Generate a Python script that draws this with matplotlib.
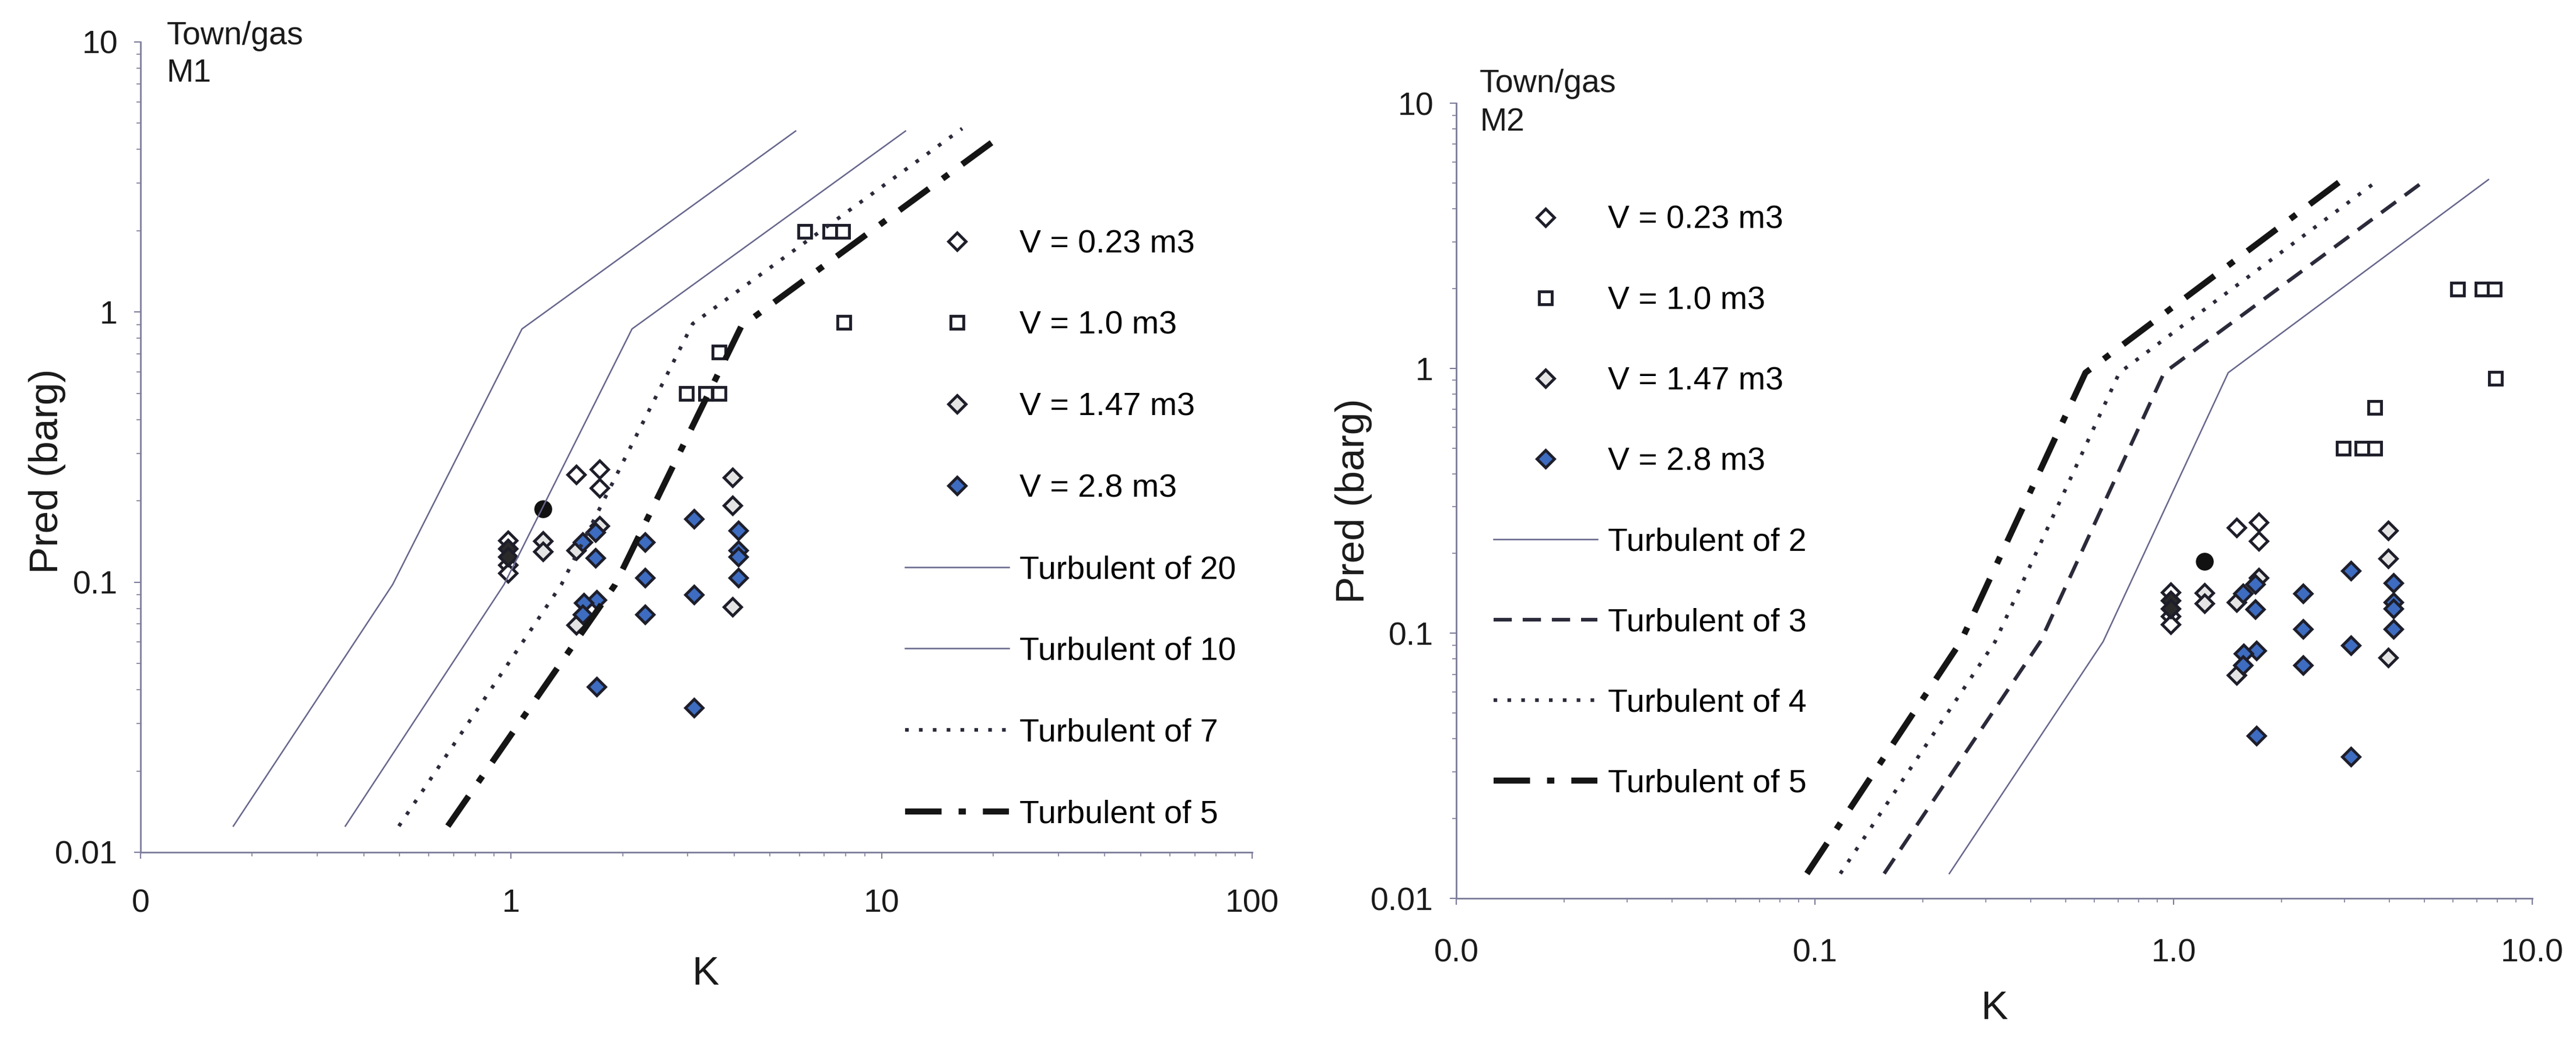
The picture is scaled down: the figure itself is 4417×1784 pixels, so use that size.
import matplotlib
matplotlib.use('Agg')

import matplotlib.pyplot as plt
from matplotlib.ticker import FixedLocator, FixedFormatter, LogLocator, NullFormatter

# experimental points (same K / Pred in both panels)
k_023 = [0.98, 0.98, 0.98, 1.50, 1.73, 1.73]
p_023 = [0.143, 0.116, 0.108, 0.250, 0.262, 0.223]
k_100 = [6.2, 7.25, 7.85, 7.9, 3.64, 2.97, 3.35, 3.64]
p_100 = [1.99, 1.99, 1.99, 0.915, 0.71, 0.50, 0.50, 0.50]
k_147 = [1.22, 1.22, 1.50, 1.50, 1.73, 3.96, 3.96, 3.96]
p_147 = [0.142, 0.130, 0.131, 0.0695, 0.162, 0.244, 0.192, 0.081]
k_280 = [1.69, 1.56, 1.69, 1.70, 1.57, 1.56, 1.70, 2.30, 2.30, 2.30,
         3.12, 3.12, 3.12, 4.10, 4.10, 4.10, 4.10]
p_280 = [0.153, 0.141, 0.123, 0.086, 0.084, 0.076, 0.041, 0.141, 0.104, 0.076,
         0.172, 0.090, 0.0343, 0.155, 0.131, 0.124, 0.104]
k_dark = [0.98, 0.98]
p_dark = [0.133, 0.124]
k_dot = [1.22]
p_dot = [0.187]

# turbulence curves, M1
m1_k20 = [0.178, 0.479, 1.07, 5.86]
m1_k10 = [0.357, 0.957, 2.12, 11.6]
m1_k7 = [0.498, 1.367, 3.09, 16.5]
m1_k5 = [0.675, 1.91, 4.18, 20.0]
m1_p = [0.0125, 0.098, 0.866, 4.68]
m1_p7 = [0.0125, 0.098, 0.905, 4.78]
m1_p5 = [0.0125, 0.098, 0.885, 4.28]

# turbulence curves, M2
m2_k2 = [0.237, 0.636, 1.42, 7.55]
m2_k3 = [0.156, 0.425, 0.941, 5.06]
m2_k4 = [0.1177, 0.318, 0.706, 3.74]
m2_k5 = [0.095, 0.255, 0.568, 2.96]
m2_p = [0.0124, 0.093, 0.962, 5.15]

y_ticks = [0.01, 0.1, 1, 10]
y_labels = ['0.01', '0.1', '1', '10']
m1_xticks = [0.1, 1, 10, 100]
m1_xlabels = ['0', '1', '10', '100']
m2_xticks = [0.01, 0.1, 1, 10]
m2_xlabels = ['0.0', '0.1', '1.0', '10.0']

plt.rcParams['font.family'] = ['Liberation Sans', 'DejaVu Sans']

W, H = 4417, 1784
fig = plt.figure(figsize=(W / 100, H / 100), dpi=100)

axc = '#7c7c9a'
thin = '#66668c'
edge = '#1e1e2a'
blue = '#3d6cc0'


def scatter_points(ax):
    kw = dict(linestyle='none', mec=edge, mew=3.5)
    ax.plot(k_023, p_023, marker='D', ms=15, mfc='white', label='V = 0.23 m3', **kw)
    ax.plot(k_100, p_100, marker='s', ms=16, mfc='white', label='V = 1.0 m3', **kw)
    ax.plot(k_147, p_147, marker='D', ms=15, mfc='#e4e4e4', label='V = 1.47 m3', **kw)
    ax.plot(k_280, p_280, marker='D', ms=15, mfc=blue, label='V = 2.8 m3', **kw)
    ax.plot(k_dark, p_dark, marker='D', ms=15, mfc='#2a2a2a', label='_nolegend_', **kw)
    ax.plot(k_dot, p_dot, marker='o', ms=21, mfc='#111111', mec='#111111', mew=1,
            linestyle='none', label='_nolegend_')


def style_axes(ax, xticks, xlabels, xlim, xpad):
    ax.set_xscale('log')
    ax.set_yscale('log')
    ax.set_xlim(*xlim)
    ax.set_ylim(0.01, 10)
    for s in ['top', 'right']:
        ax.spines[s].set_visible(False)
    for s in ['left', 'bottom']:
        ax.spines[s].set_color(axc)
        ax.spines[s].set_linewidth(2)
    ax.xaxis.set_major_locator(FixedLocator(xticks))
    ax.xaxis.set_major_formatter(FixedFormatter(xlabels))
    ax.yaxis.set_major_locator(FixedLocator(y_ticks))
    ax.yaxis.set_major_formatter(FixedFormatter(y_labels))
    for a in [ax.xaxis, ax.yaxis]:
        a.set_minor_locator(LogLocator(base=10, subs=range(2, 10)))
        a.set_minor_formatter(NullFormatter())
    ax.tick_params(which='major', direction='out', length=8, width=1.5, color=axc,
                   labelsize=40, labelcolor='#1a1a1a')
    ax.tick_params(which='minor', direction='out', length=5, width=1.2, color=axc)
    ax.tick_params(axis='x', pad=xpad)
    ax.tick_params(axis='y', pad=20)
    ax.set_xlabel('K', fontsize=50, color='#1a1a1a')
    ax.set_ylabel('Pred (barg)', fontsize=50, color='#1a1a1a')


leg_kw = dict(bbox_transform=fig.transFigure, loc='upper left', frameon=False,
              fontsize=40, numpoints=1, handlelength=3.2, handletextpad=0.32,
              borderpad=0, borderaxespad=0)

# ---- left panel, M1
ax1 = fig.add_axes([241 / W, 1 - 1462 / H, 1906 / W, 1390 / H])
scatter_points(ax1)
ax1.plot(m1_k20, m1_p, color=thin, lw=1.8, label='Turbulent of 20')
ax1.plot(m1_k10, m1_p, color=thin, lw=1.8, label='Turbulent of 10')
ax1.plot(m1_k7, m1_p7, color='#2a2a3a', lw=4.5, linestyle=(0, (1, 2.8)), label='Turbulent of 7')
ax1.plot(m1_k5, m1_p5, color='#151515', lw=7.5, linestyle=(0, (6, 2.8, 1.2, 2.8)),
         label='Turbulent of 5')
style_axes(ax1, m1_xticks, m1_xlabels, (0.1, 100), 37)
ax1.xaxis.set_label_coords(0.508, -0.127)
ax1.yaxis.set_label_coords(-0.067, 0.47)
ax1.text(286 / W, 1 - 36 / H, 'Town/gas\nM1', transform=fig.transFigure, fontsize=40,
         va='top', ha='left', linespacing=1.3, color='#1a1a1a')
ax1.legend(bbox_to_anchor=(1552 / W, 1 - 393 / H), labelspacing=1.58, **leg_kw)

# ---- right panel, M2
ax2 = fig.add_axes([2497 / W, 1 - 1541 / H, 1845 / W, 1364 / H])
scatter_points(ax2)
ax2.plot(m2_k2, m2_p, color=thin, lw=1.8, label='Turbulent of 2')
ax2.plot(m2_k3, m2_p, color='#2a2a3a', lw=4.5, linestyle=(0, (5, 3)), label='Turbulent of 3')
ax2.plot(m2_k4, m2_p, color='#2a2a3a', lw=4.5, linestyle=(0, (1, 2.8)), label='Turbulent of 4')
ax2.plot(m2_k5, m2_p, color='#151515', lw=7.5, linestyle=(0, (6, 2.8, 1.2, 2.8)),
         label='Turbulent of 5')
style_axes(ax2, m2_xticks, m2_xlabels, (0.01, 10), 41)
ax2.xaxis.set_label_coords(0.5, -0.115)
ax2.yaxis.set_label_coords(-0.078, 0.5)
ax2.text(2537 / W, 1 - 118 / H, 'Town/gas\nM2', transform=fig.transFigure, fontsize=40,
         va='top', ha='left', linespacing=1.35, color='#1a1a1a')
ax2.legend(bbox_to_anchor=(2561 / W, 1 - 352 / H), labelspacing=1.55, **leg_kw)

fig.savefig('out.png', dpi=100)
